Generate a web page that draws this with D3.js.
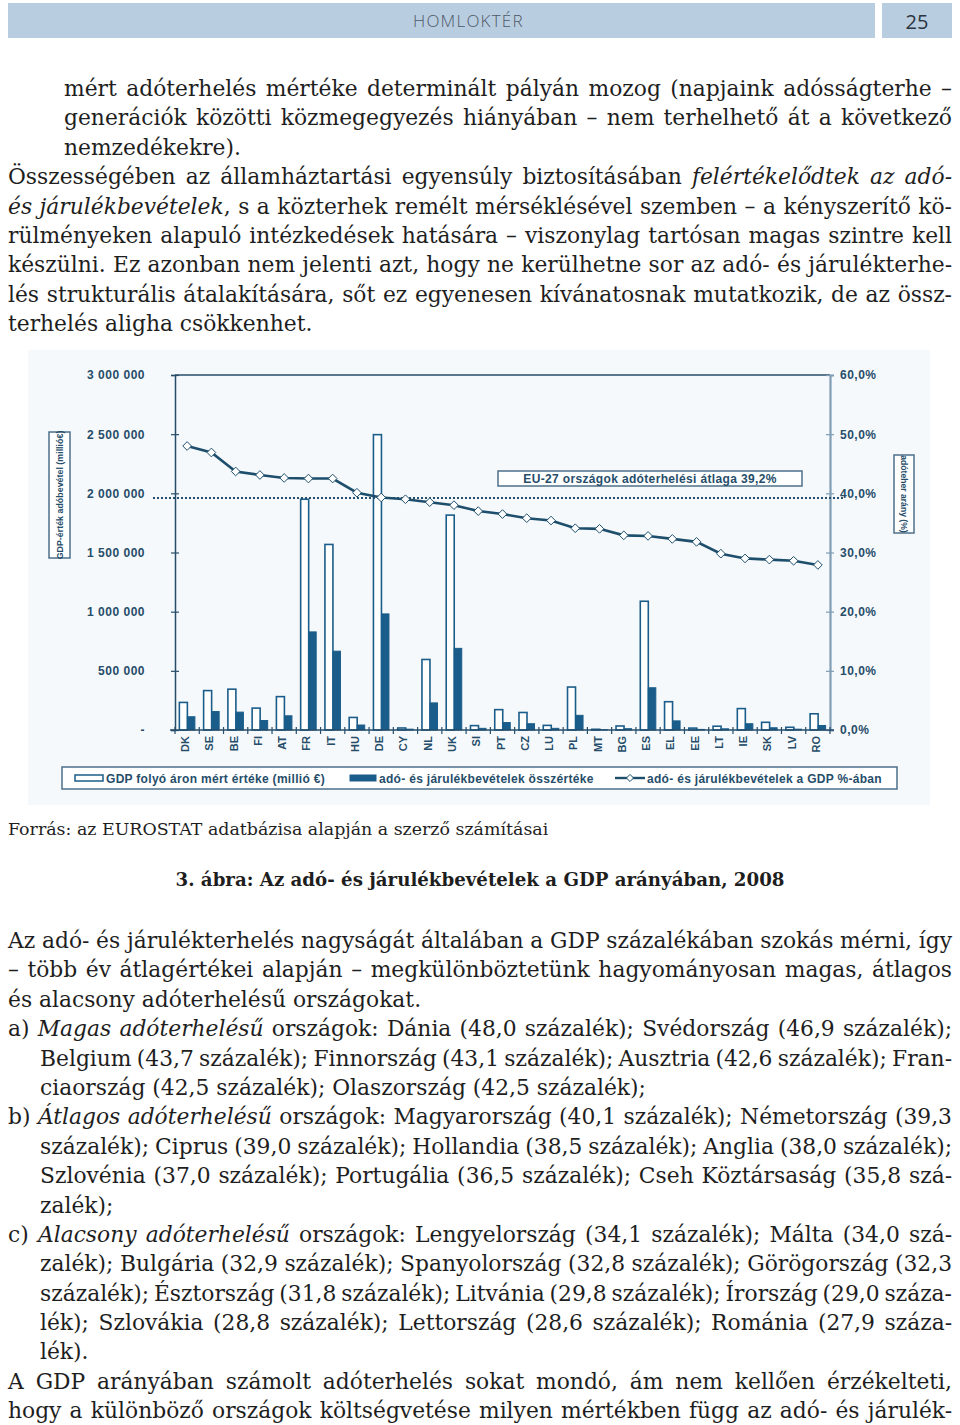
<!DOCTYPE html>
<html lang="hu">
<head>
<meta charset="UTF-8">
<title>Homloktér 25</title>
<script src="https://d3js.org/d3.v7.min.js"></script>
<style>
  html, body { margin: 0; padding: 0; background: #fff; }
  body { width: 960px; height: 1425px; position: relative; overflow: hidden; }
  .hbar { position: absolute; top: 3px; height: 35px; background: #b9cde1; }
  #htitle { left: 8px; width: 867px; font-family: "Open Sans", sans-serif;
            font-weight: 300; font-size: 17px; line-height: 35px; letter-spacing: 1.2px; color: #4d5966; }
  #htitle span { position: absolute; left: 405px; }
  #hnum { left: 882px; width: 70px; text-align: center; font-family: "Open Sans", sans-serif;
          font-size: 20px; line-height: 37px; color: #2b3440; }
  .txt { position: absolute; left: 8px; width: 944px; font-family: "DejaVu Serif", serif;
         font-size: 21.8px; line-height: 29.4px; word-spacing: -3px; color: #1e1e1e; }
  .txt div { text-align: justify; text-align-last: justify; white-space: normal; height: 29.4px; }
  .txt div.last { text-align-last: left; word-spacing: 0; }
  .txt div.ind { margin-left: 56px; }
  .txt div.ind2 { margin-left: 32px; }
  #src { position: absolute; left: 8px; top: 819px; font-family: "DejaVu Serif", serif; font-size: 17.4px; color: #1e1e1e; }
  #cap { position: absolute; left: 0; width: 960px; top: 869px; text-align: center; font-family: "DejaVu Serif", serif;
         font-weight: bold; font-size: 18.2px; color: #1e1e1e; }
  svg { position: absolute; left: 0; top: 0; }
</style>
</head>
<body>
<div class="hbar" id="htitle"><span>HOMLOKTÉR</span></div>
<div class="hbar" id="hnum">25</div>

<div class="txt" style="top:74px">
  <div class="ind">mért adóterhelés mértéke determinált pályán mozog (napjaink adósságterhe –</div>
  <div class="ind">generációk közötti közmegegyezés hiányában – nem terhelhető át a következő</div>
  <div class="ind last">nemzedékekre).</div>
  <div>Összességében az államháztartási egyensúly biztosításában <i>felértékelődtek az adó-</i></div>
  <div><i>és járulékbevételek</i>, s a közterhek remélt mérséklésével szemben – a kényszerítő kö-</div>
  <div>rülményeken alapuló intézkedések hatására – viszonylag tartósan magas szintre kell</div>
  <div>készülni. Ez azonban nem jelenti azt, hogy ne kerülhetne sor az adó- és járulékterhe-</div>
  <div>lés strukturális átalakítására, sőt ez egyenesen kívánatosnak mutatkozik, de az össz-</div>
  <div class="last">terhelés aligha csökkenhet.</div>
</div>

<div id="src">Forrás: az EUROSTAT adatbázisa alapján a szerző számításai</div>
<div id="cap">3. ábra: Az adó- és járulékbevételek a GDP arányában, 2008</div>

<div class="txt" style="top:926px">
  <div>Az adó- és járulékterhelés nagyságát általában a GDP százalékában szokás mérni, így</div>
  <div>– több év átlagértékei alapján – megkülönböztetünk hagyományosan magas, átlagos</div>
  <div class="last">és alacsony adóterhelésű országokat.</div>
  <div>a) <i>Magas adóterhelésű</i> országok: Dánia (48,0 százalék); Svédország (46,9 százalék);</div>
  <div class="ind2">Belgium (43,7 százalék); Finnország (43,1 százalék); Ausztria (42,6 százalék); Fran-</div>
  <div class="ind2 last">ciaország (42,5 százalék); Olaszország (42,5 százalék);</div>
  <div>b) <i>Átlagos adóterhelésű</i> országok: Magyarország (40,1 százalék); Németország (39,3</div>
  <div class="ind2">százalék); Ciprus (39,0 százalék); Hollandia (38,5 százalék); Anglia (38,0 százalék);</div>
  <div class="ind2">Szlovénia (37,0 százalék); Portugália (36,5 százalék); Cseh Köztársaság (35,8 szá-</div>
  <div class="ind2 last">zalék);</div>
  <div>c) <i>Alacsony adóterhelésű</i> országok: Lengyelország (34,1 százalék); Málta (34,0 szá-</div>
  <div class="ind2">zalék); Bulgária (32,9 százalék); Spanyolország (32,8 százalék); Görögország (32,3</div>
  <div class="ind2">százalék); Észtország (31,8 százalék); Litvánia (29,8 százalék); Írország (29,0 száza-</div>
  <div class="ind2">lék); Szlovákia (28,8 százalék); Lettország (28,6 százalék); Románia (27,9 száza-</div>
  <div class="ind2 last">lék).</div>
  <div>A GDP arányában számolt adóterhelés sokat mondó, ám nem kellően érzékelteti,</div>
  <div>hogy a különböző országok költségvetése milyen mértékben függ az adó- és járulék-</div>
</div>

<script>
'use strict'

// data (2008)
const countries = ['DK', 'SE', 'BE', 'FI', 'AT', 'FR', 'IT', 'HU', 'DE', 'CY', 'NL', 'UK', 'SI', 'PT',
                   'CZ', 'LU', 'PL', 'MT', 'BG', 'ES', 'EL', 'EE', 'LT', 'IE', 'SK', 'LV', 'RO']
// GDP at current prices (million €)
const gdpValues = [233000, 333000, 345000, 185000, 282000, 1950000, 1568000, 106000, 2496000, 17000,
                   596000, 1816000, 37000, 172000, 148000, 39000, 363000, 6000, 34000, 1088000,
                   239000, 16000, 32000, 181000, 65000, 23000, 137000]
// total tax and contribution revenue (million €)
const taxValues = [112000, 156000, 151000, 80000, 120000, 829000, 666000, 42000, 981000, 7000,
                   229000, 690000, 14000, 63000, 53000, 14000, 124000, 2000, 11000, 357000,
                   77000, 5000, 10000, 53000, 19000, 7000, 38000]
// tax revenue as % of GDP
const taxRatio = [48.0, 46.9, 43.7, 43.1, 42.6, 42.5, 42.5, 40.1, 39.3, 39.0, 38.5, 38.0, 37.0, 36.5,
                  35.8, 35.4, 34.1, 34.0, 32.9, 32.8, 32.3, 31.8, 29.8, 29.0, 28.8, 28.6, 27.9]
const leftTicks = [0, 500000, 1000000, 1500000, 2000000, 2500000, 3000000]
const rightTicks = [0, 10, 20, 30, 40, 50, 60]
const euAverage = 39.2

const ink = '#264d6a'
const barColor = '#1b5d8a'
const lineColor = '#1d4e6c'

const svg = d3.select('body').append('svg')
    .attr('width', 960)
    .attr('height', 1425)

// chart area (page coordinates)
const plot = {left: 175, right: 830, top: 375, bottom: 730}

svg.append('rect')
    .attr('x', 28).attr('y', 350)
    .attr('width', 902).attr('height', 455)
    .attr('fill', '#f6f9fb')

const x = d3.scaleBand()
    .domain(countries)
    .range([plot.left, plot.right])

const yLeft = d3.scaleLinear()
    .domain([0, 3000000])
    .range([plot.bottom, plot.top])

const yRight = d3.scaleLinear()
    .domain([0, 60])
    .range([plot.bottom, plot.top])

const fmtNum = d => d === 0 ? '-' : d3.format(',')(d).replace(/,/g, ' ')
const fmtPct = d => d.toFixed(1).replace('.', ',') + '%'

const axisFont = g => g.selectAll('text')
    .attr('fill', ink)
    .style('font-family', '"Liberation Sans", Arial, sans-serif')
    .style('font-weight', 'bold')
    .style('font-size', '12px')
    .style('letter-spacing', '0.5px')

// top border
svg.append('line')
    .attr('x1', plot.left).attr('x2', plot.right)
    .attr('y1', plot.top).attr('y2', plot.top)
    .attr('stroke', ink).attr('stroke-width', 1.5)

// left axis
const gLeft = svg.append('g')
    .attr('transform', `translate(${plot.left},0)`)
    .call(d3.axisLeft(yLeft).tickValues(leftTicks).tickFormat(fmtNum).tickSize(4).tickPadding(26))
gLeft.select('.domain').attr('stroke', ink).attr('stroke-width', 1.5)
gLeft.selectAll('.tick line').attr('x1', 4).attr('stroke', ink).attr('stroke-width', 1.2)
gLeft.call(axisFont)

// right axis
const gRight = svg.append('g')
    .attr('transform', `translate(${plot.right},0)`)
    .call(d3.axisRight(yRight).tickValues(rightTicks).tickFormat(fmtPct).tickSize(4).tickPadding(6))
gRight.select('.domain').attr('stroke', '#7f9db6').attr('stroke-width', 2.2)
gRight.selectAll('.tick line').attr('x1', -4).attr('stroke', '#7f9db6').attr('stroke-width', 1.2)
gRight.call(axisFont)

// bars
const bw = x.bandwidth()
svg.append('g').selectAll('rect')
    .data(countries)
    .join('rect')
    .attr('x', d => x(d) + bw * 0.18)
    .attr('width', bw * 0.33)
    .attr('y', (d, i) => yLeft(gdpValues[i]))
    .attr('height', (d, i) => plot.bottom - yLeft(gdpValues[i]))
    .attr('fill', '#ffffff')
    .attr('stroke', barColor)
    .attr('stroke-width', 1.6)

svg.append('g').selectAll('rect')
    .data(countries)
    .join('rect')
    .attr('x', d => x(d) + bw * 0.51)
    .attr('width', bw * 0.31)
    .attr('y', (d, i) => yLeft(taxValues[i]))
    .attr('height', (d, i) => plot.bottom - yLeft(taxValues[i]))
    .attr('fill', barColor)
    .attr('stroke', barColor)
    .attr('stroke-width', 1)

// bottom axis with ticks on category borders
const gBottom = svg.append('g')
gBottom.append('line')
    .attr('x1', plot.left - 5).attr('x2', plot.right + 4)
    .attr('y1', plot.bottom).attr('y2', plot.bottom)
    .attr('stroke', ink).attr('stroke-width', 1.6)
gBottom.selectAll('line.tk')
    .data(countries.concat(['end']))
    .join('line')
    .attr('class', 'tk')
    .attr('x1', (d, i) => i < countries.length ? x(d) : plot.right)
    .attr('x2', (d, i) => i < countries.length ? x(d) : plot.right)
    .attr('y1', plot.bottom - 3).attr('y2', plot.bottom + 4)
    .attr('stroke', ink).attr('stroke-width', 1.2)
gBottom.selectAll('text')
    .data(countries)
    .join('text')
    .attr('transform', d => `translate(${x(d) + bw / 2 + 2},${plot.bottom + 6}) rotate(-90)`)
    .attr('text-anchor', 'end')
    .text(d => d)
gBottom.call(axisFont)
gBottom.selectAll('text').style('font-size', '11px').style('letter-spacing', '0px')

// EU-27 average
svg.append('line')
    .attr('x1', 153).attr('x2', 843)
    .attr('y1', yRight(euAverage)).attr('y2', yRight(euAverage))
    .attr('stroke', ink).attr('stroke-width', 2)
    .attr('stroke-dasharray', '2,2')

svg.append('rect')
    .attr('x', 498).attr('y', 471).attr('width', 304).attr('height', 15)
    .attr('fill', '#ffffff').attr('stroke', '#4d6f8a').attr('stroke-width', 1.5)
svg.append('text')
    .attr('x', 650).attr('y', 482.5)
    .attr('text-anchor', 'middle')
    .attr('fill', ink)
    .style('font-family', '"Liberation Sans", Arial, sans-serif')
    .style('font-weight', 'bold')
    .style('font-size', '12px')
    .style('letter-spacing', '0.35px')
    .text('EU-27 országok adóterhelési átlaga 39,2%')

// ratio line
const line = d3.line()
    .x((d, i) => x(countries[i]) + bw / 2)
    .y(d => yRight(d))
svg.append('path')
    .datum(taxRatio)
    .attr('d', line)
    .attr('fill', 'none')
    .attr('stroke', lineColor)
    .attr('stroke-width', 2.6)

svg.append('g').selectAll('path')
    .data(taxRatio)
    .join('path')
    .attr('d', d3.symbol(d3.symbolDiamond2, 48))
    .attr('transform', (d, i) => `translate(${x(countries[i]) + bw / 2},${yRight(d)})`)
    .attr('fill', '#ffffff')
    .attr('stroke', lineColor)
    .attr('stroke-width', 1)

// axis title boxes
const sideTitle = (bx, by, w, h, angle, label, size) => {
    svg.append('rect')
        .attr('x', bx).attr('y', by).attr('width', w).attr('height', h)
        .attr('fill', '#ffffff').attr('stroke', '#4d6f8a').attr('stroke-width', 1.5)
    svg.append('text')
        .attr('transform', `translate(${bx + w / 2},${by + h / 2}) rotate(${angle})`)
        .attr('text-anchor', 'middle')
        .attr('dy', '0.35em')
        .attr('fill', ink)
        .style('font-family', '"Liberation Sans", Arial, sans-serif')
        .style('font-weight', 'bold')
        .style('font-size', size + 'px')
        .text(label)
}
sideTitle(49, 432, 21, 126, -90, 'GDP-érték adóbevétel (millió€)', 8.9)
sideTitle(894, 455, 20, 78, 90, 'adóteher arány (%)', 8.6)

// legend
const lg = svg.append('g')
lg.append('rect')
    .attr('x', 62).attr('y', 767).attr('width', 835).attr('height', 22)
    .attr('fill', '#ffffff').attr('stroke', '#4d6f8a').attr('stroke-width', 1.5)
lg.append('rect')
    .attr('x', 75).attr('y', 775).attr('width', 28).attr('height', 6)
    .attr('fill', '#ffffff').attr('stroke', barColor).attr('stroke-width', 1.5)
lg.append('rect')
    .attr('x', 350).attr('y', 775).attr('width', 26).attr('height', 6)
    .attr('fill', barColor).attr('stroke', barColor).attr('stroke-width', 1)
lg.append('line')
    .attr('x1', 615).attr('x2', 645).attr('y1', 778).attr('y2', 778)
    .attr('stroke', lineColor).attr('stroke-width', 2.4)
lg.append('path')
    .attr('d', d3.symbol(d3.symbolDiamond2, 32))
    .attr('transform', 'translate(630,778)')
    .attr('fill', '#ffffff').attr('stroke', lineColor).attr('stroke-width', 1)
const legendItems = [
    {x: 106, label: 'GDP folyó áron mért értéke (millió €)'},
    {x: 379, label: 'adó- és járulékbevételek összértéke'},
    {x: 647, label: 'adó- és járulékbevételek a GDP %-ában'}
]
lg.selectAll('text')
    .data(legendItems)
    .join('text')
    .attr('x', d => d.x).attr('y', 782.5)
    .attr('fill', ink)
    .style('font-family', '"Liberation Sans", Arial, sans-serif')
    .style('font-weight', 'bold')
    .style('font-size', '12px')
    .style('letter-spacing', '0.3px')
    .text(d => d.label)
</script>
</body>
</html>
